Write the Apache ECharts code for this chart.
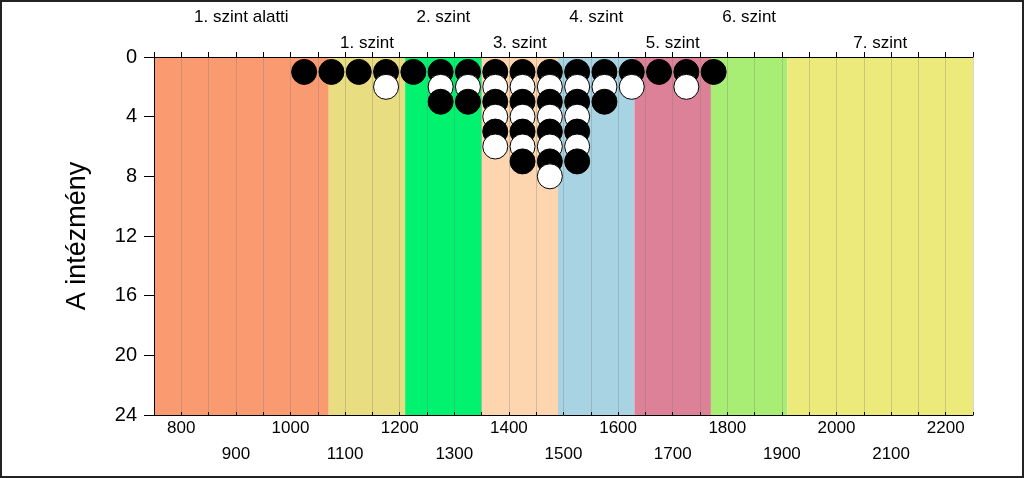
<!DOCTYPE html>
<html>
<head>
<meta charset="utf-8">
<script src="https://cdn.jsdelivr.net/npm/echarts@6/dist/echarts.min.js"></script>
<style>
html,body{margin:0;padding:0;background:#fff;}
#chart{width:1024px;height:478px;}
</style>
</head>
<body>
<div id="chart"></div>
<script>
// Level bands (score ranges) and their names
const bandNames = ['1. szint alatti','1. szint','2. szint','3. szint','4. szint','5. szint','6. szint','7. szint'];
const bandStarts = [750, 1070, 1210, 1350, 1490, 1630, 1770, 1910];
const bandEnds   = [1070, 1210, 1350, 1490, 1630, 1770, 1910, 2250];
const bandColors = ['#FA9A70','#E8DD80','#00F26E','#FDD5AE','#A8D3E3','#DC8197','#A9EE74','#ECEA7A'];

// Dot columns: score bin centre and number of institutions stacked in it
const binCentres = [1025, 1075, 1125, 1175, 1225, 1275, 1325, 1375, 1425, 1475, 1525, 1575, 1625, 1675, 1725, 1775];
const binCounts  = [1, 1, 1, 2, 1, 3, 3, 6, 7, 8, 7, 3, 2, 1, 2, 1];

// Axis ranges
const xMin = 750, xMax = 2250, xStep = 50;
const yMin = 0, yMax = 24, yStep = 4;

const FONT = 'Liberation Sans, Arial, sans-serif';

const dots = [];
binCentres.forEach((x, i) => {
  for (let j = 1; j <= binCounts[i]; j++) {
    const black = j % 2 === 1;
    dots.push({
      value: [x, j],
      itemStyle: { color: black ? '#000' : '#fff', borderColor: '#000', borderWidth: 1, opacity: 1 }
    });
  }
});

const areas = bandNames.map((n, i) => [
  { xAxis: bandStarts[i], name: n, itemStyle: { color: bandColors[i], opacity: 1 },
    label: { offset: [0, i % 2 === 0 ? -26 : 0] } },
  { xAxis: bandEnds[i] }
]);

const chart = echarts.init(document.getElementById('chart'), null, { renderer: 'canvas' });
chart.setOption({
  animation: false,
  backgroundColor: '#fff',
  textStyle: { fontFamily: FONT },
  grid: { left: 154, right: 51, top: 57, bottom: 63 },
  graphic: [{
    type: 'rect', shape: { x: 1, y: 1, width: 1022, height: 476 },
    style: { fill: 'none', stroke: '#222', lineWidth: 2 }, z: 100
  }],
  xAxis: [{
    type: 'value', position: 'bottom', min: xMin, max: xMax, interval: xStep, z: 1.5,
    axisLine: { show: true, onZero: false, lineStyle: { color: '#000', width: 1 } },
    axisTick: { show: true, length: 3, inside: true, lineStyle: { color: '#000' } },
    splitLine: { show: true, lineStyle: { color: 'rgba(120,120,120,0.3)', width: 1 } },
    axisLabel: {
      color: '#000', fontSize: 17, fontFamily: FONT, lineHeight: 26, margin: 0,
      formatter: v => (v % 200 === 0 ? String(v) : (v % 100 === 0 ? '\n' + v : ''))
    }
  }, {
    type: 'value', position: 'top', min: xMin, max: xMax, interval: xStep, z: 1.5,
    axisLine: { show: true, onZero: false, lineStyle: { color: '#000', width: 1 } },
    axisTick: { show: true, length: 5, lineStyle: { color: '#000' } },
    splitLine: { show: false },
    axisLabel: { show: false }
  }],
  yAxis: {
    type: 'value', inverse: true, min: yMin, max: yMax, interval: yStep, z: 1.5,
    name: 'A intézmény', nameLocation: 'middle', nameGap: 63, nameRotate: 90,
    nameTextStyle: { color: '#000', fontSize: 27, fontFamily: FONT },
    axisLine: { show: true, onZero: false, lineStyle: { color: '#000', width: 1 } },
    axisTick: { show: true, length: 10, lineStyle: { color: '#000' } },
    splitLine: { show: false },
    axisLabel: { color: '#000', fontSize: 20, fontFamily: FONT, margin: 17 }
  },
  series: [{
    type: 'scatter', data: [], z: 1, silent: true,
    markArea: {
      silent: true,
      label: { show: true, position: 'top', distance: 5, color: '#000', fontSize: 17, fontFamily: FONT },
      data: areas
    }
  }, {
    type: 'scatter', z: 5, symbol: 'circle', symbolSize: 25, data: dots,
    itemStyle: { opacity: 1 }
  }]
});
</script>
</body>
</html>
